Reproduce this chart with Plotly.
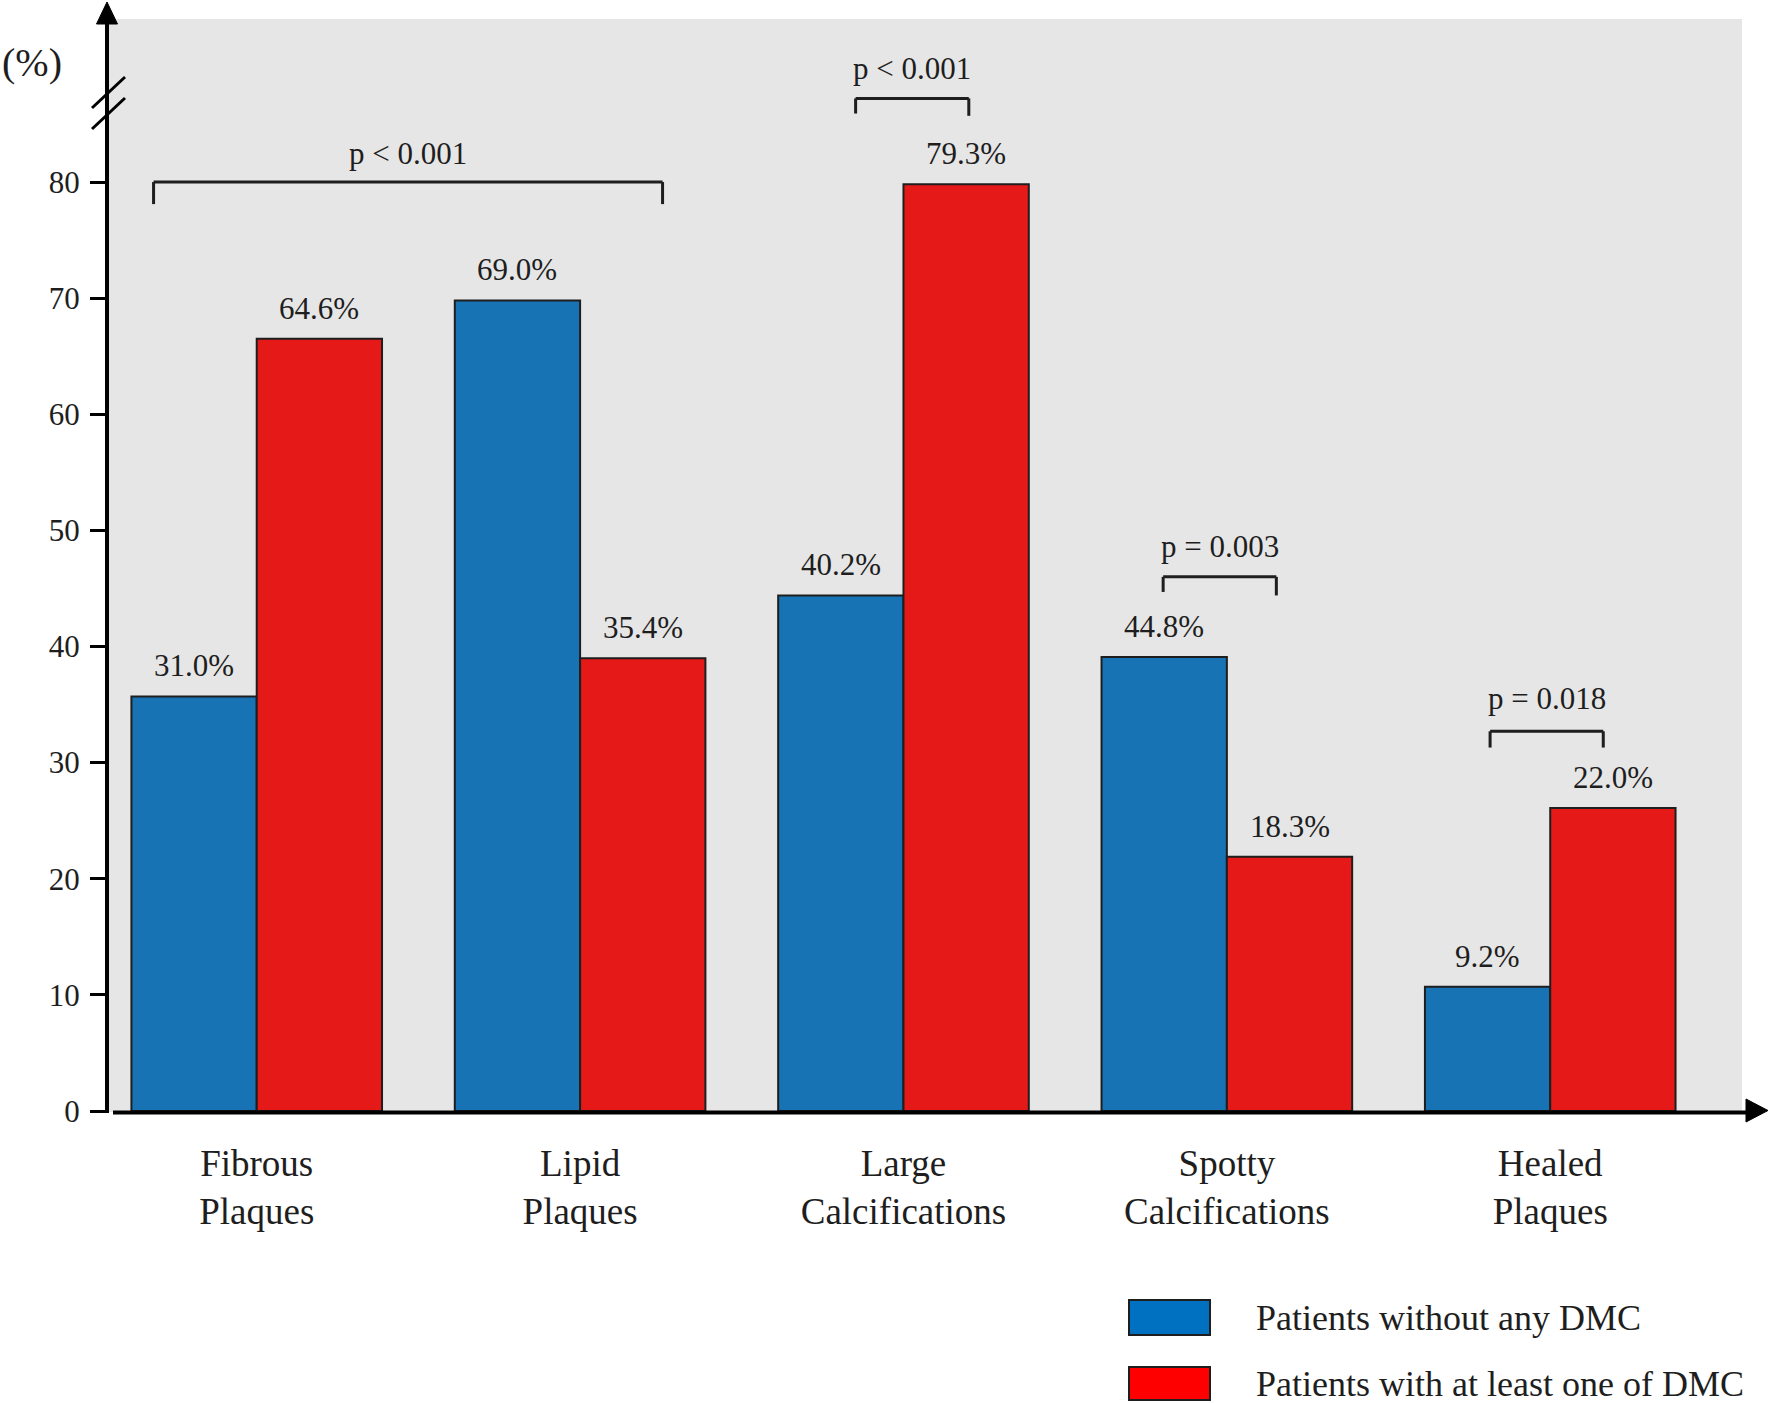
import plotly.graph_objects as go

# ---- data ----
categories = ["Fibrous<br>Plaques", "Lipid<br>Plaques", "Large<br>Calcifications",
              "Spotty<br>Calcifications", "Healed<br>Plaques"]
series_names = ["Patients without any DMC", "Patients with at least one of DMC"]
# bar heights as drawn in the picture (axis units)
without_dmc = [35.7, 69.8, 44.4, 39.1, 10.7]
with_dmc = [66.5, 39.0, 79.8, 21.9, 26.1]
# printed value labels
without_labels = ["31.0%", "69.0%", "40.2%", "44.8%", "9.2%"]
with_labels = ["64.6%", "35.4%", "79.3%", "18.3%", "22.0%"]
y_ticks = [0, 10, 20, 30, 40, 50, 60, 70, 80]
# p-value brackets
p_texts = ["p < 0.001", "p < 0.001", "p = 0.003", "p = 0.018"]
p_left = [-0.319, 1.852, 2.803, 3.814]
p_right = [1.255, 2.202, 3.153, 4.164]
p_top = [80.0, 87.2, 46.0, 32.7]
p_leg_l = [78.1, 85.9, 44.7, 31.3]
p_leg_r = [78.1, 85.7, 44.4, 31.3]
p_text_y = [82.5, 89.8, 48.6, 35.5]

# ---- style / layout ----
W, H = 1770, 1403
ML, MR, MT, MB = 107, 28, 19, 291
PW, PH = W - ML - MR, H - MT - MB
FONT = "Liberation Serif, Times New Roman, serif"
BLUE, RED = "#1873b4", "#e61919"
LEG_BLUE, LEG_RED = "#0070c0", "#ff0000"
INK = "#1e1e1e"
BARGAP = 0.225
X_RANGE = [-0.463, 4.593]
Y_RANGE = [-0.086, 94.04]


def pxx(x):
    return (x - ML) / PW


def pxy(y):
    return (H - MB - y) / PH


fig = go.Figure()
fig.add_trace(go.Bar(x=categories, y=without_dmc, name=series_names[0],
                     marker=dict(color=BLUE, line=dict(color=INK, width=2))))
fig.add_trace(go.Bar(x=categories, y=with_dmc, name=series_names[1],
                     marker=dict(color=RED, line=dict(color=INK, width=2))))

annotations = []
shapes = []
off = (1 - BARGAP) / 4
for i in range(len(categories)):
    annotations.append(dict(x=i - off, y=without_dmc[i], xref="x", yref="y",
                            text=without_labels[i], showarrow=False,
                            yanchor="bottom", yshift=11,
                            font=dict(family=FONT, size=31, color=INK)))
    annotations.append(dict(x=i + off, y=with_dmc[i], xref="x", yref="y",
                            text=with_labels[i], showarrow=False,
                            yanchor="bottom", yshift=11,
                            font=dict(family=FONT, size=31, color=INK)))

line_style = dict(color=INK, width=3)
for k in range(len(p_texts)):
    shapes.append(dict(type="line", xref="x", yref="y", x0=p_left[k], x1=p_right[k],
                       y0=p_top[k], y1=p_top[k], line=line_style))
    shapes.append(dict(type="line", xref="x", yref="y", x0=p_left[k], x1=p_left[k],
                       y0=p_top[k], y1=p_leg_l[k], line=line_style))
    shapes.append(dict(type="line", xref="x", yref="y", x0=p_right[k], x1=p_right[k],
                       y0=p_top[k], y1=p_leg_r[k], line=line_style))
    annotations.append(dict(x=(p_left[k] + p_right[k]) / 2, y=p_text_y[k], xref="x", yref="y",
                            text=p_texts[k], showarrow=False, yanchor="middle",
                            font=dict(family=FONT, size=31, color=INK)))

# axes with arrows
shapes += [
    dict(type="line", xref="paper", yref="paper", x0=pxx(107), x1=pxx(107),
         y0=pxy(1113), y1=pxy(22), line=dict(color="black", width=4)),
    dict(type="path", xref="paper", yref="paper",
         path=f"M {pxx(96.5)},{pxy(24)} L {pxx(117.5)},{pxy(24)} L {pxx(107)},{pxy(2)} Z",
         fillcolor="black", line=dict(color="black", width=1)),
    dict(type="line", xref="paper", yref="paper", x0=pxx(113), x1=pxx(1750),
         y0=pxy(1112.5), y1=pxy(1112.5), line=dict(color="black", width=4)),
    dict(type="path", xref="paper", yref="paper",
         path=f"M {pxx(1746)},{pxy(1099)} L {pxx(1746)},{pxy(1122)} L {pxx(1768)},{pxy(1110.5)} Z",
         fillcolor="black", line=dict(color="black", width=1)),
    # axis break marks
    dict(type="line", xref="paper", yref="paper", x0=pxx(92), x1=pxx(125),
         y0=pxy(108), y1=pxy(77), line=dict(color="black", width=3)),
    dict(type="line", xref="paper", yref="paper", x0=pxx(92), x1=pxx(125),
         y0=pxy(129), y1=pxy(98), line=dict(color="black", width=3)),
]

# custom legend
leg_rows = [(1300, 1335, LEG_BLUE, series_names[0]), (1367, 1400, LEG_RED, series_names[1])]
for y0, y1, col, name in leg_rows:
    shapes.append(dict(type="rect", xref="paper", yref="paper",
                       x0=pxx(1129), x1=pxx(1210), y0=pxy(y1), y1=pxy(y0),
                       fillcolor=col, line=dict(color=INK, width=2)))
    annotations.append(dict(x=pxx(1254), y=pxy((y0 + y1) / 2), xref="paper", yref="paper",
                            text=name, showarrow=False, xanchor="left", yanchor="middle",
                            font=dict(family=FONT, size=36, color=INK)))

annotations.append(dict(x=pxx(32), y=pxy(63), xref="paper", yref="paper", text="(%)",
                        showarrow=False, xanchor="center", yanchor="middle",
                        font=dict(family=FONT, size=40, color=INK)))

fig.update_layout(
    width=W, height=H,
    margin=dict(l=ML, r=MR, t=MT, b=MB, pad=0),
    paper_bgcolor="white", plot_bgcolor="#e6e6e6",
    barmode="group", bargap=BARGAP, bargroupgap=0,
    showlegend=False,
    font=dict(family=FONT, color=INK),
    shapes=shapes, annotations=annotations,
    xaxis=dict(range=X_RANGE, showgrid=False, zeroline=False, showline=False,
               ticks="", ticklabelstandoff=26,
               tickfont=dict(family=FONT, size=37, color=INK)),
    yaxis=dict(range=Y_RANGE, showgrid=False, zeroline=False, showline=False,
               tickvals=y_ticks, ticks="outside", ticklen=16, tickwidth=3,
               tickcolor="black", ticklabelstandoff=4,
               tickfont=dict(family=FONT, size=31, color=INK)),
)

fig.write_html(
    "out.html",
    config={"displayModeBar": False},
    post_script="document.body.style.margin='0';document.documentElement.style.overflow='hidden';",
)
